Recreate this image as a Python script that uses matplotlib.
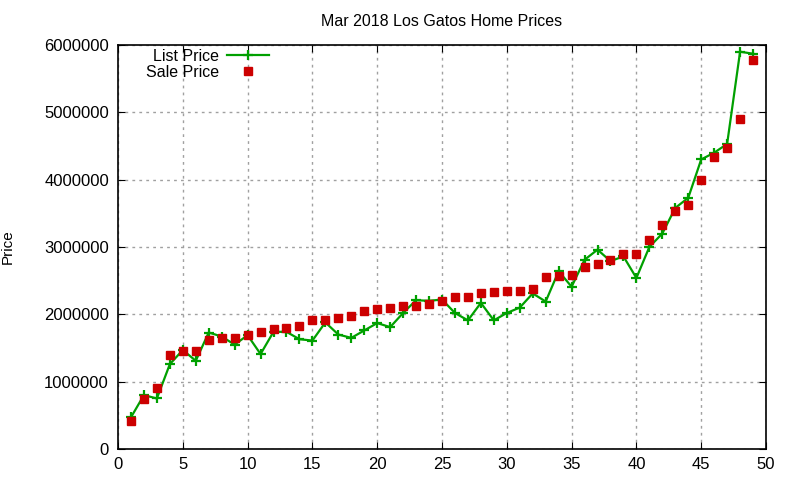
import numpy as np
import matplotlib
matplotlib.use('Agg')
import matplotlib.pyplot as plt

plt.rcParams['font.family'] = ['Liberation Sans', 'DejaVu Sans']
plt.rcParams['font.size'] = 11

# 数据
x = list(range(1, 50))
list_price = [470000, 800000, 750000, 1260000, 1470000, 1310000, 1730000, 1670000, 1550000, 1690000,
              1410000, 1740000, 1740000, 1630000, 1610000, 1880000, 1700000, 1650000, 1760000, 1870000,
              1810000, 2020000, 2210000, 2200000, 2220000, 2020000, 1910000, 2170000, 1910000, 2020000,
              2100000, 2310000, 2190000, 2640000, 2410000, 2810000, 2960000, 2790000, 2860000, 2540000,
              3000000, 3200000, 3580000, 3730000, 4300000, 4400000, 4530000, 5900000, 5870000]
sale_price = [410000, 740000, 900000, 1400000, 1460000, 1460000, 1620000, 1650000, 1650000, 1690000,
              1740000, 1780000, 1800000, 1820000, 1910000, 1910000, 1950000, 1980000, 2050000, 2080000,
              2100000, 2130000, 2130000, 2160000, 2200000, 2260000, 2260000, 2310000, 2330000, 2340000,
              2340000, 2380000, 2560000, 2570000, 2580000, 2710000, 2750000, 2810000, 2890000, 2900000,
              3100000, 3330000, 3530000, 3630000, 4000000, 4330000, 4470000, 4900000, 5780000]
yticks = list(range(0, 6000001, 1000000))

fig = plt.figure(figsize=(8, 4.8), dpi=100)
ax = fig.add_axes([0.1475, 0.0646, 0.81, 0.8417])

# 绘制折线和散点
ax.plot(x, list_price, color='#00a000', lw=1.6, marker='+', ms=7, mew=1.6, label='List Price', zorder=3)
ax.plot(x, sale_price, ls='none', color='#cc0000', marker='s', ms=6, label='Sale Price', zorder=4)

ax.set_xlim(0, 50)
ax.set_ylim(0, 6000000)
ax.set_xticks(range(0, 51, 5))
ax.set_yticks(yticks)
ax.set_yticklabels([str(v) for v in yticks])
ax.tick_params(direction='in', length=5, top=True, right=True, labelsize=12, colors='black')
ax.tick_params(axis='y', pad=6.5)
ax.tick_params(axis='x', pad=5.5)
for s in ax.spines.values():
    s.set_linewidth(1.2)

# 显示网格
ax.grid(True, color='#a0a0a0', linestyle=(0, (2, 3)), linewidth=1)
ax.set_axisbelow(True)

ax.set_title('Mar 2018 Los Gatos Home Prices', fontsize=11.5, pad=14)
ax.set_ylabel('Price', fontsize=11, labelpad=21)

ax.legend(loc='upper left', bbox_to_anchor=(146 / 800, 1 - 49 / 480), bbox_transform=fig.transFigure,
          frameon=False, markerfirst=False, fontsize=11.5, handlelength=2.6, handletextpad=0.5,
          labelspacing=0.05, borderaxespad=0, borderpad=0)

fig.savefig('out.png', dpi=100)
